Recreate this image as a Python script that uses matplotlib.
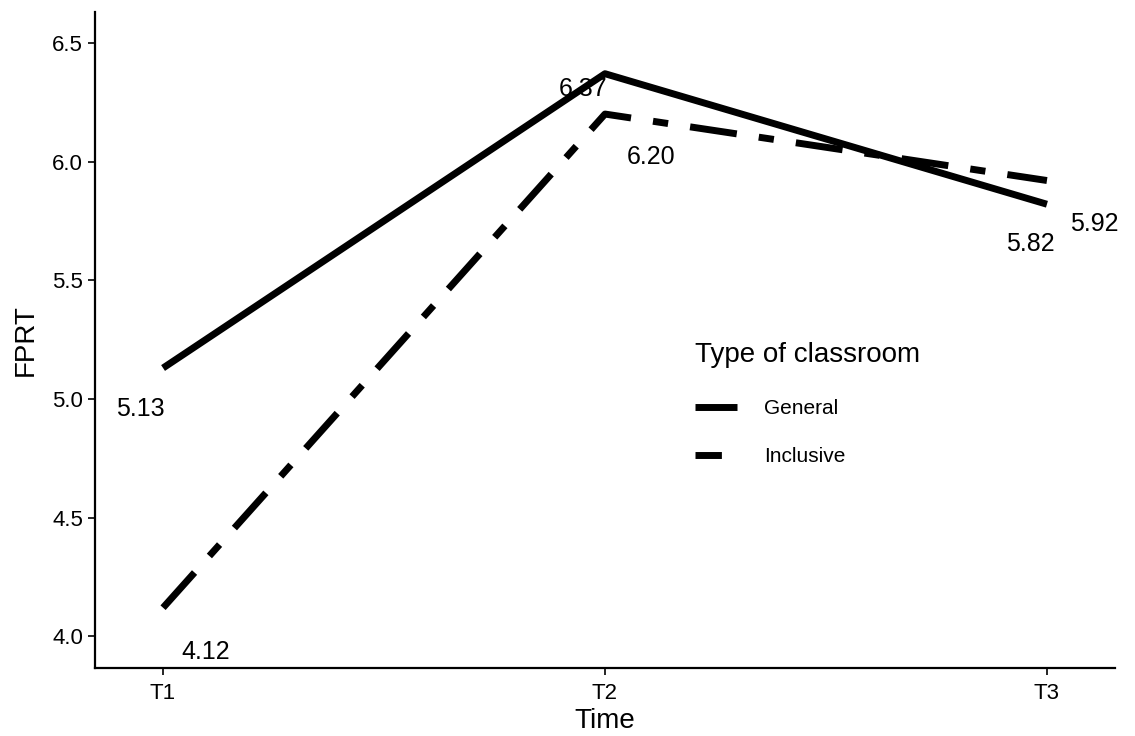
import matplotlib.pyplot as plt
from matplotlib.lines import Line2D

plt.rcParams['font.family'] = ['Liberation Sans', 'DejaVu Sans']

# ---- data ----
times = ['T1', 'T2', 'T3']
general = [5.13, 6.37, 5.82]
inclusive = [4.12, 6.20, 5.92]

# label offsets (pixels) for the value annotations
general_offsets = [(-23, -41), (-22, -15), (-17, -40)]
inclusive_offsets = [(43, -44), (46, -43), (47, -43)]

fig = plt.figure(figsize=(11.35, 7.36), dpi=100)
ax = fig.add_axes([95 / 1135, 1 - 668 / 736, 1020 / 1135, 656 / 736])

x = list(range(1, len(times) + 1))
ax.plot(x, general, color='black', lw=5, solid_capstyle='butt')
ax.plot(x, inclusive, color='black', lw=5, dash_capstyle='butt',
        dashes=(6.8, 3.2, 2.2, 3.2))

for xi, v, off in zip(x, general, general_offsets):
    ax.annotate(f'{v:.2f}', (xi, v), xytext=off, textcoords='offset pixels',
                ha='center', va='center', fontsize=18)
for xi, v, off in zip(x, inclusive, inclusive_offsets):
    ax.annotate(f'{v:.2f}', (xi, v), xytext=off, textcoords='offset pixels',
                ha='center', va='center', fontsize=18)

ax.set_xlim(0.846, 3.154)
ax.set_ylim(3.866, 6.63)
ax.set_xticks(x)
ax.set_xticklabels(times)
ax.set_yticks([4.0, 4.5, 5.0, 5.5, 6.0, 6.5])
ax.set_yticklabels(['4.0', '4.5', '5.0', '5.5', '6.0', '6.5'])
ax.tick_params(labelsize=16, length=5, width=1.2, colors='black')
ax.tick_params(axis='x', pad=6)

for s in ['top', 'right']:
    ax.spines[s].set_visible(False)
for s in ['left', 'bottom']:
    ax.spines[s].set_linewidth(1.6)

ax.set_xlabel('Time', fontsize=20, labelpad=3)
ax.set_ylabel('FPRT', fontsize=20, labelpad=10)

# legend keys drawn shorter, like the original key glyphs
handles = [Line2D([], [], color='black', lw=5, solid_capstyle='butt'),
           Line2D([], [], color='black', lw=5, dash_capstyle='butt',
                  dashes=(3.8, 2.4, 0.8, 2.4))]
leg = ax.legend(handles, ['General', 'Inclusive'], title='Type of classroom',
                loc='upper left', bbox_to_anchor=(0.58, 0.509), frameon=False,
                fontsize=15, title_fontsize=20, handlelength=2.0,
                labelspacing=1.4, handletextpad=1.3, borderaxespad=0)
leg._legend_box.align = 'left'
leg._legend_box.sep = 22

fig.savefig('out.png', dpi=100)
